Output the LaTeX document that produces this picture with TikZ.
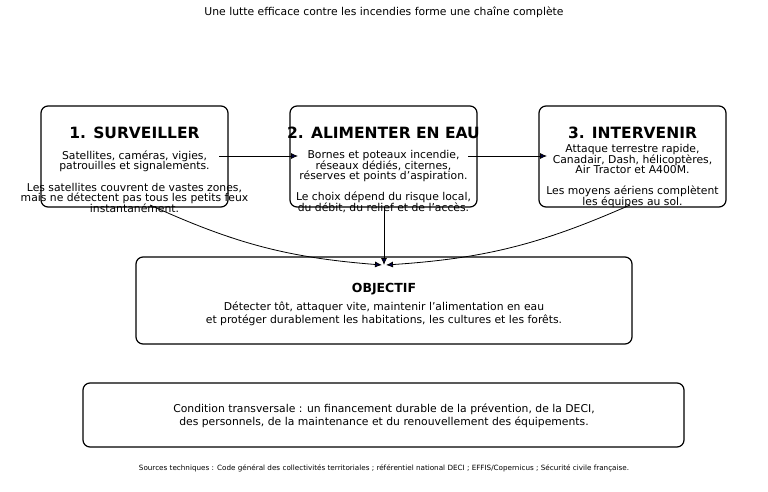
\documentclass[tikz,border=0pt]{standalone}
\usepackage{fontspec}
\setmainfont{DejaVu Sans}
\usetikzlibrary{arrows.meta}
\lineskiplimit=-20pt
\begin{document}
\begin{tikzpicture}[x=1pt,y=-1pt,
 box/.style={draw=black,line width=1.2pt,rounded corners=7pt,fill=white},
 arr/.style={-{Latex[length=7pt,width=6pt,fill=black!70!blue]},line width=0.8pt},
 body/.style={font={\fontsize{10.8}{10.6}\selectfont},align=center},
 ttl/.style={font={\fontsize{15.5}{17}\selectfont\bfseries}}]
\useasboundingbox (0,0) rectangle (768,492);
\node (title) at (384,12) {\fontsize{10.8}{12}\selectfont Une lutte efficace contre les incendies forme une chaîne complète};
\draw[box] (41,106) rectangle (228,207);
\draw[box] (290,106) rectangle (477,207);
\draw[box] (539,106) rectangle (726,207);
\draw[box] (136,257) rectangle (632,344);
\draw[box] (83,383) rectangle (684,447);
\node[ttl] (t1) at (134.5,133) {1. SURVEILLER};
\node[ttl] (t2) at (383.5,133) {2. ALIMENTER EN EAU};
\node[ttl] (t3) at (632.5,133) {3. INTERVENIR};
\node[body] (d1) at (134.5,181.5) {Satellites, caméras, vigies,\\patrouilles et signalements.\\[10.6pt]Les satellites couvrent de vastes zones,\\mais ne détectent pas tous les petits feux\\instantanément.};
\node[body] (d2) at (383.5,181.5) {Bornes et poteaux incendie,\\réseaux dédiés, citernes,\\réserves et points d’aspiration.\\[10.6pt]Le choix dépend du risque local,\\du débit, du relief et de l’accès.};
\node[body] (d3) at (632.5,176) {Attaque terrestre rapide,\\Canadair, Dash, hélicoptères,\\Air Tractor et A400M.\\[10.6pt]Les moyens aériens complètent\\les équipes au sol.};
\node[font={\fontsize{12.5}{14}\selectfont\bfseries}] (ot) at (384,289) {OBJECTIF};
\node[align=center,font={\fontsize{10.8}{13}\selectfont}] (od) at (384,314) {Détecter tôt, attaquer vite, maintenir l’alimentation en eau\\et protéger durablement les habitations, les cultures et les forêts.};
\node[align=center,font={\fontsize{10.8}{13}\selectfont}] (cd) at (384,416) {Condition transversale : un financement durable de la prévention, de la DECI,\\des personnels, de la maintenance et du renouvellement des équipements.};
\node[font={\fontsize{7.2}{8}\selectfont}] (src) at (384,468) {Sources techniques : Code général des collectivités territoriales ; référentiel national DECI ; EFFIS/Copernicus ; Sécurité civile française.};
\coordinate (a1s) at (219,156); \coordinate (a1e) at (298,156);
\coordinate (a2s) at (468,156); \coordinate (a2e) at (547,156);
\draw[arr] (a1s) -- (a1e);
\draw[arr] (a2s) -- (a2e);
\coordinate (c1) at (150,205); \coordinate (c2) at (384,207); \coordinate (c3) at (630,205);
\coordinate (o1) at (382,265); \coordinate (o2) at (384,265); \coordinate (o3) at (386,265);
\draw[arr] (c1) to[bend right=10] (o1);
\draw[arr] (c2) -- (o2);
\draw[arr] (c3) to[bend left=10] (o3);
\end{tikzpicture}
\end{document}
